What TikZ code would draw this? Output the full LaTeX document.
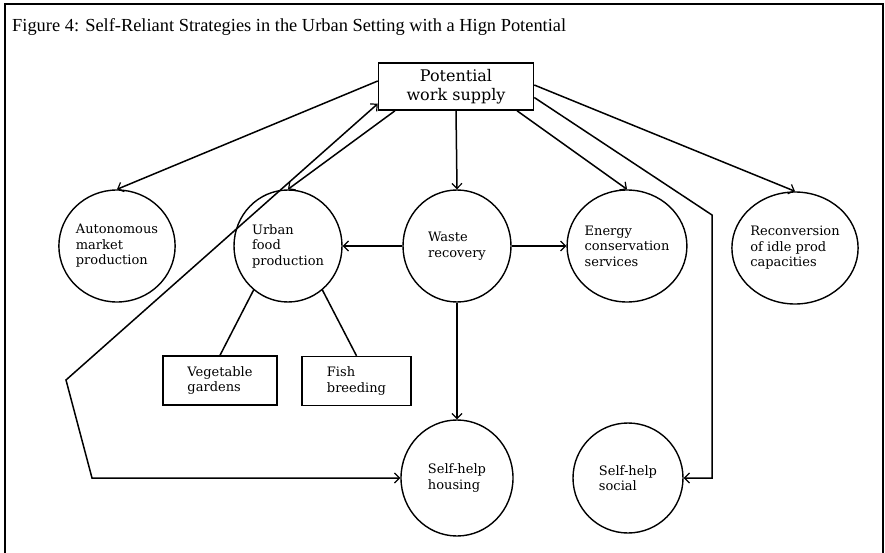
\documentclass[tikz,border=0pt]{standalone}
\usepackage{fontspec}
\setmainfont{Liberation Serif}
\newfontfamily\labelfont{DejaVu Serif}
\usetikzlibrary{arrows.meta,shapes.geometric,calc}

\tikzset{
  conn/.style={line width=1.5pt, line join=miter},
  barb/.tip={Straight Barb[length=5pt,width=10pt,line width=1.2pt]},
  tip/.style={-barb},
  bubble/.style={ellipse, draw, line width=1.4pt, inner sep=0pt,
    minimum width=108pt, minimum height=112pt, align=left,
    font=\labelfont\fontsize{13}{15.5}\selectfont},
  panel/.style={rectangle, draw, line width=1.4pt, inner sep=0pt, align=left,
    font=\labelfont\fontsize{13}{15.5}\selectfont},
}

\begin{document}
\begin{tikzpicture}[x=1pt, y=-1pt]
  \useasboundingbox (0,0) rectangle (885,553);
  % frame, open at the bottom
  \draw[line width=1.6pt] (5,553) -- (5,4) -- (883,4) -- (883,553);

  \node[anchor=base west, inner sep=0pt, font=\fontsize{18.4}{20}\selectfont]
    (title) at (12,32) {Figure 4: Self-Reliant Strategies in the Urban Setting with a Hign Potential};

  % source of work
  \node[rectangle, draw, line width=1.5pt, minimum width=155pt, minimum height=47pt,
        align=center, inner sep=0pt, font=\labelfont\fontsize{16}{19}\selectfont]
    (supply) at (456,86.5) {Potential\\work supply};

  % strategies
  \node[bubble] (auto)   at (117,246) {Autonomous\\market\\production};
  \node[bubble] (urban)  at (288,246) {Urban\\food\\production};
  \node[bubble] (waste)  at (457,246) {Waste\\recovery};
  \node[bubble] (energy) at (627,246) {Energy\\conservation\\services};
  \node[bubble] (recon)  at (795,248) {Reconversion\\of idle prod\\capacities};
  \node[bubble, minimum width=112pt, minimum height=116pt] (house) at (457,478) {Self-help\\housing};
  \node[bubble, minimum width=110pt, minimum height=110pt] (social) at (628,478) {Self-help\\social};

  \node[panel, minimum width=114pt, minimum height=49pt] (veg)  at (220,380.5) {Vegetable\\gardens};
  \node[panel, minimum width=109pt, minimum height=49pt] (fish) at (356.5,381) {Fish\\breeding};

  % bend points of the routed connectors
  \coordinate (lbend) at (66,380);
  \coordinate (lfoot) at (92,478);
  \coordinate (rbend) at (712,215);

  % connectors from the work supply
  \draw[conn,tip] ([yshift=5.5pt]supply.west) -- (auto.north);
  \draw[conn,tip] ([xshift=-61pt]supply.south) -- (urban.north);
  \draw[conn,tip] (supply.south) -- (waste.north);
  \draw[conn,tip] ([xshift=61pt]supply.south) -- (energy.north);
  \draw[conn,tip] ([yshift=1.5pt]supply.east) -- (recon.north);
  \draw[conn,barb-barb]
    ([yshift=7pt]supply.south west) -- (lbend) -- (lfoot |- house.west) -- (house.west);
  \draw[conn,tip] ([yshift=-11pt]supply.east) -- (rbend) -- (rbend |- social.east) -- (social.east);

  % connectors between strategies
  \draw[conn,tip] (waste.west) -- (urban.east);
  \draw[conn,tip] (waste.east) -- (energy.west);
  \draw[conn,tip] (waste.south) -- (house.north);
  \draw[conn] (urban.-128) -- (veg.north);
  \draw[conn] (urban.-52) -- (fish.north);
\end{tikzpicture}
\end{document}
